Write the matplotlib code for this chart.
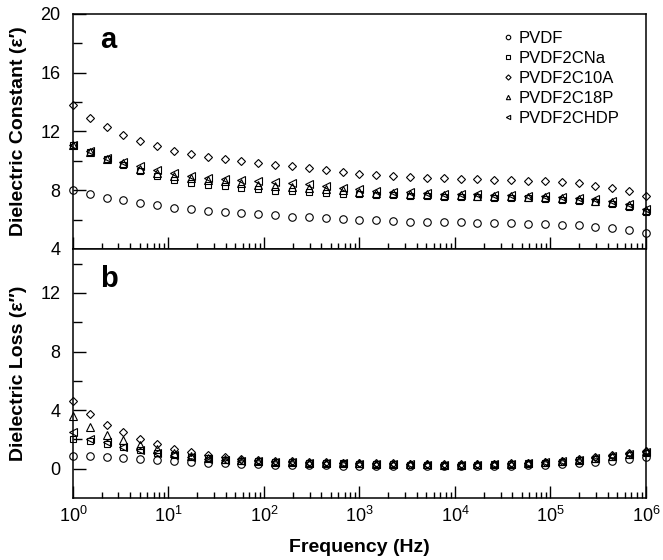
import matplotlib
matplotlib.use("Agg")
import matplotlib.pyplot as plt
from matplotlib.ticker import (LogLocator, MultipleLocator, FixedLocator,
                               NullFormatter, LogFormatterSciNotation)

plt.rcParams["font.family"] = ["Liberation Sans", "DejaVu Sans"]
plt.rcParams["mathtext.fontset"] = "custom"
plt.rcParams["mathtext.rm"] = "Liberation Sans"
plt.rcParams["mathtext.it"] = "Liberation Sans:italic"
plt.rcParams["mathtext.bf"] = "Liberation Sans:bold"

# measurement frequencies (Hz)
freq = [1, 1.50, 2.26, 3.38, 5.08, 7.63, 11.5, 17.2, 25.8, 38.8, 58.2, 87.4,
        131, 197, 296, 444, 666, 1000, 1500, 2260, 3380, 5080, 7630, 11500,
        17200, 25800, 38800, 58200, 87400, 131000, 197000, 296000, 444000,
        666000, 1000000]
decades = [1, 10, 100, 1000, 10000, 100000, 1000000]

series = ["PVDF", "PVDF2CNa", "PVDF2C10A", "PVDF2C18P", "PVDF2CHDP"]
markers = ["o", "s", "D", "^", "<"]
msizes = [5.4, 4.4, 4.4, 5.2, 5.2]

# dielectric constant (eps')
eps1_pvdf = [8.0, 7.75, 7.5, 7.34, 7.15, 6.97, 6.82, 6.7, 6.6, 6.52, 6.44,
             6.36, 6.28, 6.21, 6.15, 6.09, 6.03, 5.98, 5.94, 5.9, 5.87, 5.85, 5.83,
             5.81, 5.79, 5.77, 5.75, 5.72, 5.69, 5.65, 5.6, 5.53, 5.44, 5.3, 5.1]
eps1_cna = [11.1, 10.6, 10.1, 9.75, 9.3, 8.98, 8.68, 8.52, 8.38, 8.28, 8.15,
            8.07, 7.98, 7.92, 7.87, 7.82, 7.77, 7.74, 7.7, 7.66, 7.63, 7.6, 7.57,
            7.55, 7.53, 7.5, 7.48, 7.45, 7.41, 7.36, 7.29, 7.2, 7.07, 6.88, 6.55]
eps1_c10a = [13.8, 12.95, 12.3, 11.78, 11.32, 10.98, 10.7, 10.47, 10.28, 10.12, 9.98,
             9.88, 9.74, 9.62, 9.49, 9.36, 9.24, 9.13, 9.04, 8.97, 8.91, 8.86, 8.82,
             8.78, 8.75, 8.72, 8.68, 8.64, 8.6, 8.54, 8.46, 8.32, 8.15, 7.95, 7.6]
eps1_c18p = [11.1, 10.62, 10.15, 9.85, 9.45, 9.2, 9.0, 8.85, 8.72, 8.62, 8.52,
             8.35, 8.27, 8.2, 8.13, 8.06, 8.0, 7.9, 7.84, 7.79, 7.75, 7.71, 7.68,
             7.65, 7.63, 7.6, 7.58, 7.55, 7.51, 7.46, 7.39, 7.3, 7.17, 6.98, 6.65]
eps1_chdp = [11.1, 10.65, 10.2, 9.94, 9.62, 9.38, 9.16, 8.98, 8.86, 8.77, 8.68,
             8.62, 8.56, 8.5, 8.4, 8.3, 8.18, 8.05, 7.96, 7.9, 7.85, 7.81, 7.77,
             7.73, 7.71, 7.68, 7.66, 7.63, 7.59, 7.54, 7.47, 7.38, 7.25, 7.05, 6.7]

# dielectric loss (eps'')
eps2_pvdf = [0.87, 0.84, 0.78, 0.73, 0.65, 0.59, 0.51, 0.46, 0.4, 0.36, 0.33,
             0.3, 0.28, 0.26, 0.24, 0.22, 0.21, 0.2, 0.19, 0.18, 0.17, 0.17, 0.17,
             0.17, 0.17, 0.18, 0.2, 0.23, 0.27, 0.32, 0.38, 0.46, 0.56, 0.66, 0.78]
eps2_cna = [2.0, 1.87, 1.68, 1.46, 1.25, 1.08, 0.92, 0.8, 0.7, 0.62, 0.55,
            0.5, 0.46, 0.43, 0.4, 0.38, 0.36, 0.34, 0.32, 0.3, 0.28, 0.27, 0.26,
            0.26, 0.27, 0.29, 0.32, 0.36, 0.41, 0.48, 0.57, 0.68, 0.8, 0.92, 1.05]
eps2_c10a = [4.6, 3.72, 3.0, 2.5, 2.0, 1.67, 1.32, 1.12, 0.93, 0.78, 0.68,
             0.6, 0.55, 0.5, 0.47, 0.44, 0.42, 0.4, 0.38, 0.36, 0.34, 0.33, 0.32,
             0.32, 0.33, 0.35, 0.38, 0.42, 0.48, 0.56, 0.66, 0.78, 0.92, 1.05, 1.2]
eps2_c18p = [3.6, 2.88, 2.3, 1.93, 1.6, 1.32, 1.07, 0.88, 0.74, 0.64, 0.57,
             0.52, 0.48, 0.45, 0.42, 0.4, 0.38, 0.36, 0.34, 0.32, 0.3, 0.29, 0.28,
             0.28, 0.29, 0.31, 0.34, 0.38, 0.44, 0.52, 0.62, 0.74, 0.88, 1.02, 1.18]
eps2_chdp = [2.5, 2.05, 1.82, 1.5, 1.3, 1.1, 0.92, 0.78, 0.68, 0.6, 0.54,
             0.5, 0.46, 0.43, 0.41, 0.39, 0.37, 0.35, 0.33, 0.31, 0.29, 0.28, 0.27,
             0.27, 0.28, 0.3, 0.33, 0.37, 0.43, 0.51, 0.61, 0.73, 0.87, 1.0, 1.15]

eps1 = [eps1_pvdf, eps1_cna, eps1_c10a, eps1_c18p, eps1_chdp]
eps2 = [eps2_pvdf, eps2_cna, eps2_c10a, eps2_c18p, eps2_chdp]


def style_axis(ax, show_xlabels):
    ax.set_xscale("log")
    ax.set_xlim(1, 1e6)
    ax.xaxis.set_major_locator(FixedLocator(decades))
    ax.xaxis.set_major_formatter(LogFormatterSciNotation())
    ax.xaxis.set_minor_locator(LogLocator(base=10, subs=range(2, 10), numticks=100))
    ax.xaxis.set_minor_formatter(NullFormatter())
    ax.tick_params(axis="x", which="major", direction="in", length=8.5, width=1,
                   top=False, labelbottom=show_xlabels, labelsize=13, pad=6)
    ax.tick_params(axis="x", which="minor", direction="in", length=4.5, width=1, top=False)
    ax.tick_params(axis="y", which="major", direction="in", length=9, width=1,
                   right=False, labelsize=13, pad=9)
    ax.tick_params(axis="y", which="minor", direction="in", length=6.5, width=1, right=False)
    for sp in ax.spines.values():
        sp.set_linewidth(1.1)


fig = plt.figure(figsize=(6.63, 5.6), dpi=100)
ax1 = fig.add_axes([0.110, 0.5554, 0.8643, 0.4196])
ax2 = fig.add_axes([0.110, 0.1107, 0.8643, 0.4446])

for name, m, ms, y1, y2 in zip(series, markers, msizes, eps1, eps2):
    for ax, y in ((ax1, y1), (ax2, y2)):
        ax.plot(freq, y, linestyle="none", marker=m, markersize=ms,
                markerfacecolor="none", markeredgecolor="black",
                markeredgewidth=0.8, clip_on=False, label=name)

style_axis(ax1, False)
style_axis(ax2, True)

ax1.set_ylim(4, 20)
ax1.yaxis.set_major_locator(MultipleLocator(4))
ax1.yaxis.set_minor_locator(MultipleLocator(2))

ax2.set_ylim(-2, 15)
ax2.yaxis.set_major_locator(FixedLocator([0, 4, 8, 12]))
ax2.yaxis.set_minor_locator(FixedLocator([2, 6, 10, 14]))

ax1.set_ylabel("Dielectric Constant (\u03b5\u2032)", fontsize=14, fontweight="bold")
ax2.set_ylabel("Dielectric Loss (\u03b5\u2033)", fontsize=14, fontweight="bold")
ax1.yaxis.set_label_coords(-0.080, 0.5)
ax2.yaxis.set_label_coords(-0.080, 0.5)
ax2.set_xlabel("Frequency (Hz)", fontsize=14, fontweight="bold", labelpad=9)

ax1.text(0.047, 0.855, "a", transform=ax1.transAxes, fontsize=21,
         fontweight="bold", va="baseline", ha="left")
ax2.text(0.047, 0.847, "b", transform=ax2.transAxes, fontsize=21,
         fontweight="bold", va="baseline", ha="left")

leg = ax1.legend(loc="upper right", bbox_to_anchor=(0.968, 0.963), frameon=False,
                 fontsize=12, markerscale=0.6, handlelength=0.6,
                 handletextpad=0.3, labelspacing=0.3, borderpad=0)

fig.savefig("out.png", dpi=100)
